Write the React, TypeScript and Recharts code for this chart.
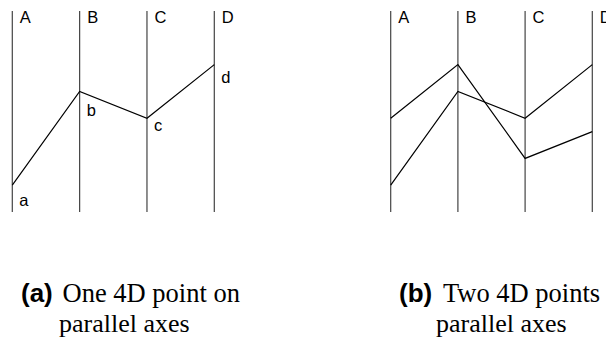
import { LineChart, Line, XAxis, YAxis, ReferenceLine, LabelList } from "recharts";

// axis names and the two 4D points (values on a 0..15 scale)
const axisNames = ["A", "B", "C", "D"];
const pointOne = [2, 9, 7, 11];
const pointTwo = [7, 11, 4, 6];
const pointOneLabels = ["a", "b", "c", "d"];

const rows = axisNames.map((name, i) => ({
  axis: name,
  p1: pointOne[i],
  p2: pointTwo[i],
  label: pointOneLabels[i],
}));

const sans = "'Liberation Sans', Arial, Helvetica, sans-serif";
const serif = "'Liberation Serif', 'Times New Roman', serif";

// vertical offset of each point label below its point
const labelDy = [21, 25, 13, 18];

const axisLabel = (name: string) => (props: any) => {
  const vb = props.viewBox || {};
  return (
    <text x={vb.x + 7.5} y={vb.y + 11.8} fontSize={16.5} fontFamily={sans} fill="#000">
      {name}
    </text>
  );
};

const pointLabel = (props: any) => {
  const { x, y, value, index } = props;
  return (
    <text x={x + 7} y={y + labelDy[index]} fontSize={16.5} fontFamily={sans} fill="#000">
      {value}
    </text>
  );
};

const ParallelAxes = ({
  width,
  margin,
  both,
}: {
  width: number;
  margin: { top: number; bottom: number; left: number; right: number };
  both: boolean;
}) => (
  <LineChart width={width} height={230} data={rows} margin={margin}>
    <XAxis dataKey="axis" hide />
    <YAxis hide domain={[0, 15]} />
    {axisNames.map((name) => (
      <ReferenceLine
        key={name}
        x={name}
        stroke="#444"
        strokeWidth={1.2}
        label={axisLabel(name)}
      />
    ))}
    {both && (
      <Line
        type="linear"
        dataKey="p2"
        stroke="#000"
        strokeWidth={1.2}
        dot={false}
        isAnimationActive={false}
      />
    )}
    <Line
      type="linear"
      dataKey="p1"
      stroke="#000"
      strokeWidth={1.2}
      dot={false}
      isAnimationActive={false}
    >
      {!both && <LabelList dataKey="label" content={pointLabel} />}
    </Line>
  </LineChart>
);

export default function App() {
  return (
    <div
      style={{
        position: "absolute",
        left: 0,
        top: 0,
        width: 606,
        height: 338,
        overflow: "hidden",
        background: "#fff",
      }}
    >
      <div style={{ position: "absolute", left: 0, top: 0 }}>
        <ParallelAxes
          width={240}
          margin={{ top: 11, bottom: 18, left: 12.3, right: 25.7 }}
          both={false}
        />
      </div>
      <div style={{ position: "absolute", left: 378, top: 0 }}>
        <ParallelAxes
          width={228}
          margin={{ top: 11, bottom: 18, left: 12.7, right: 13.7 }}
          both
        />
      </div>
      <svg
        width={606}
        height={338}
        style={{ position: "absolute", left: 0, top: 0, pointerEvents: "none" }}
      >
        <text x={21} y={301.5} fontFamily={sans} fontWeight="bold" fontSize={26}>
          (a)
        </text>
        <text x={62.5} y={301.5} fontFamily={serif} fontSize={26.5}>
          One 4D point on
        </text>
        <text x={59} y={331.5} fontFamily={serif} fontSize={26}>
          parallel axes
        </text>
        <text x={399} y={301.5} fontFamily={sans} fontWeight="bold" fontSize={26}>
          (b)
        </text>
        <text x={443} y={301.5} fontFamily={serif} fontSize={26.5}>
          Two 4D points on
        </text>
        <text x={436} y={331.5} fontFamily={serif} fontSize={26}>
          parallel axes
        </text>
      </svg>
    </div>
  );
}
